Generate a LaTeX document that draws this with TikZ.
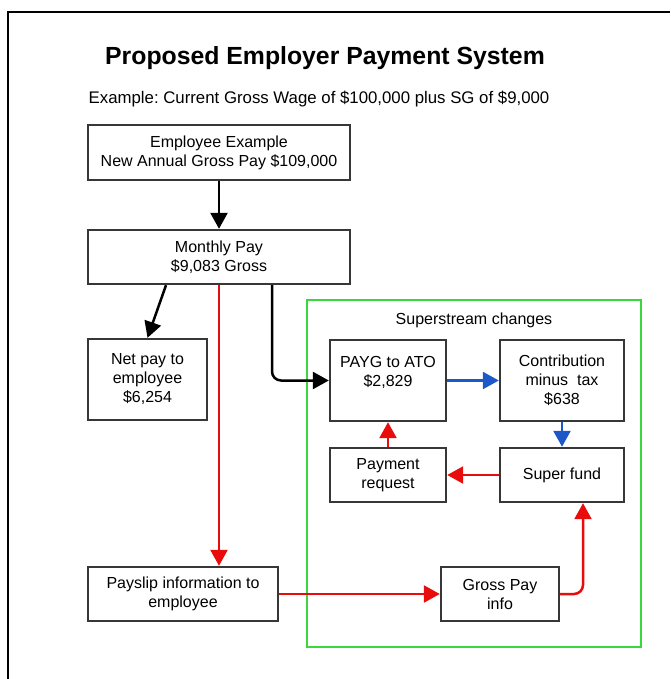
\documentclass[tikz,border=0pt]{standalone}
\usepackage{fontspec}
\setmainfont{Liberation Sans}
\usetikzlibrary{arrows.meta}
\frenchspacing

\definecolor{boxgrey}{RGB}{55,55,55}
\definecolor{payred}{RGB}{232,12,12}
\definecolor{payblue}{RGB}{28,88,200}
\definecolor{supergreen}{RGB}{60,215,60}

\begin{document}
\begin{tikzpicture}
  [x=1pt,y=-1pt,
   every node/.style={font=\fontsize{16}{19}\selectfont},
   box/.style={draw=boxgrey,line width=2.4pt,align=center,inner sep=0pt},
   arr/.style={line width=2.5pt,-{Triangle[length=16pt,width=17pt]}},
   redarr/.style={arr,draw=payred},
   bluearr/.style={arr,draw=payblue}]
  \useasboundingbox (0,0) rectangle (670,679);
  \draw[line width=2pt] (8,679) -- (8,12) -- (670,12);

  \node (title) at (325,58) {\fontsize{24.8}{28}\selectfont\bfseries Proposed Employer Payment System};
  \node (sub) at (319,99) {\fontsize{16.8}{19}\selectfont Example: Current Gross Wage of \$100,000 plus SG of \$9,000};

  % superstream area
  \draw[supergreen,line width=2.8pt] (307,300) rectangle (641,647);
  \node (ss) at (474,320) {Superstream changes};

  \node[box,minimum width=262,minimum height=55] (emp) at (219,152.5)
    {Employee Example\\New Annual Gross Pay \$109,000};
  \node[box,minimum width=262,minimum height=54] (month) at (219,257)
    {Monthly Pay\\\$9,083 Gross};
  \node[box,minimum width=119,minimum height=81] (net) at (147.5,379.5)
    {Net pay to\\employee\\\$6,254};
  \node[box,minimum width=116,minimum height=81] (payg) at (388,380.5)
    {PAYG to ATO\\\$2,829\\\mbox{}};
  \node[box,minimum width=124,minimum height=81] (contrib) at (562,380.5)
    {Contribution\\minus\ \ tax\\\$638};
  \node[box,minimum width=116,minimum height=54] (req) at (388,475)
    {Payment\\request};
  \node[box,minimum width=124,minimum height=54] (fund) at (562,475)
    {Super fund};
  \node[box,minimum width=190,minimum height=54] (slip) at (183,594)
    {Payslip information to\\employee};
  \node[box,minimum width=118,minimum height=54] (gross) at (500,594)
    {Gross Pay\\info};

  \draw[arr] (emp) -- (month);
  \draw[arr] ([xshift=-53]month.south) -- (net.north);
  \draw[arr,rounded corners=9] ([xshift=53]month.south) |- (payg.west);
  \draw[redarr] (month.south) -- (month.south |- slip.north);
  \foreach \from/\to in {payg/contrib,contrib/fund}
    \draw[bluearr] (\from) -- (\to);
  \foreach \from/\to in {fund/req,req/payg,slip/gross}
    \draw[redarr] (\from) -- (\to);
  \draw[redarr,rounded corners=9] (gross.east) -| ([xshift=21]fund.south);
\end{tikzpicture}
\end{document}
